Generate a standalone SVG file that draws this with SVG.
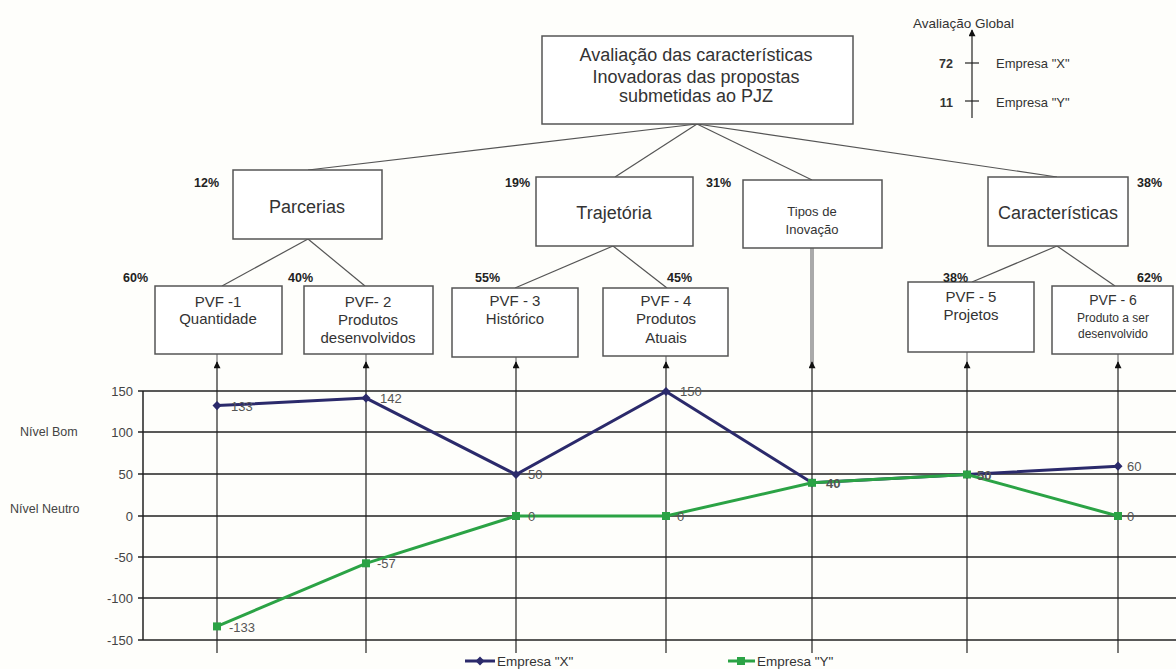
<svg xmlns="http://www.w3.org/2000/svg" width="1176" height="669" viewBox="0 0 1176 669">
<defs>
<style>
text{font-family:"Liberation Sans",Arial,sans-serif;fill:#333}
.box{fill:#fff;stroke:#555;stroke-width:1.5}
.t18{font-size:18px;text-anchor:middle}
.t15{font-size:15px;text-anchor:middle}
.t12{font-size:12px;text-anchor:middle}
.pct{font-size:12.5px;font-weight:bold;fill:#222}
.conn{stroke:#555;stroke-width:1.2;fill:none}
.grid{stroke:#222;stroke-width:1.5}
.vgrid{stroke:#222;stroke-width:1.2}
.ax{font-size:13px;text-anchor:end;fill:#444}
.dl{font-size:13px;fill:#555}
.lab{font-size:12.5px;fill:#444}
</style>
<marker id="arr" viewBox="0 0 10 10" refX="9" refY="5" markerWidth="8" markerHeight="7" orient="auto" markerUnits="userSpaceOnUse">
<path d="M0,0 L10,5 L0,10 Z" fill="#111"/>
</marker>
</defs>
<rect width="1176" height="669" fill="#fefefb"/>

<g id="connectors">
<line class="conn" x1="697" y1="124" x2="308" y2="170"/>
<line class="conn" x1="697" y1="124" x2="615" y2="177"/>
<line class="conn" x1="697" y1="124" x2="812" y2="180"/>
<line class="conn" x1="697" y1="124" x2="1057" y2="177"/>
<line class="conn" x1="308" y1="239" x2="222" y2="286"/>
<line class="conn" x1="308" y1="239" x2="365" y2="286"/>
<line class="conn" x1="613" y1="246" x2="515" y2="288"/>
<line class="conn" x1="613" y1="246" x2="667" y2="288"/>
<line class="conn" x1="1057" y1="246" x2="972" y2="282"/>
<line class="conn" x1="1057" y1="246" x2="1115" y2="286"/>
<line x1="812" y1="248" x2="812" y2="366" stroke="#aaa" stroke-width="4"/>
<g stroke="#aaa" stroke-width="2">
<line x1="217" y1="354" x2="217" y2="366"/>
<line x1="366" y1="354" x2="366" y2="366"/>
<line x1="516" y1="357" x2="516" y2="366"/>
<line x1="666" y1="356" x2="666" y2="366"/>
<line x1="967" y1="352" x2="967" y2="366"/>
<line x1="1118" y1="354" x2="1118" y2="366"/>
</g>
</g>

<g id="root">
<rect class="box" x="542" y="36" width="311" height="88"/>
<text class="t18" x="696" y="61">Avaliação das características</text>
<text class="t18" x="696" y="83">Inovadoras das propostas</text>
<text class="t18" x="696" y="102">submetidas ao PJZ</text>
</g>

<g id="global">
<line x1="972" y1="118" x2="972" y2="30" stroke="#222" stroke-width="1.2" marker-end="url(#arr)"/>
<line x1="965" y1="63" x2="979" y2="63" stroke="#222" stroke-width="1.2"/>
<line x1="965" y1="101" x2="979" y2="101" stroke="#222" stroke-width="1.2"/>
<text x="913" y="28" font-size="13.5" fill="#444">Avaliação Global</text>
<text x="953" y="68" font-size="12.5" font-weight="bold" text-anchor="end" fill="#222">72</text>
<text x="953" y="107" font-size="12.5" font-weight="bold" text-anchor="end" fill="#222">11</text>
<text x="996" y="68" font-size="13" fill="#444">Empresa "X"</text>
<text x="996" y="107" font-size="13" fill="#444">Empresa "Y"</text>
</g>

<g id="parcerias">
<rect class="box" x="233" y="170" width="149" height="69"/>
<text class="t18" x="307" y="213">Parcerias</text>
<text class="pct" x="194" y="187">12%</text>
</g>
<g id="trajetoria">
<rect class="box" x="536" y="177" width="157" height="69"/>
<text class="t18" x="614" y="219">Trajetória</text>
<text class="pct" x="505" y="187">19%</text>
</g>
<g id="tipos">
<rect class="box" x="743" y="180" width="139" height="68"/>
<text x="812" y="216" font-size="13" text-anchor="middle">Tipos de</text>
<text x="812" y="234" font-size="13" text-anchor="middle">Inovação</text>
<text class="pct" x="706" y="187">31%</text>
</g>
<g id="caracteristicas">
<rect class="box" x="988" y="177" width="140" height="69"/>
<text class="t18" x="1058" y="219">Características</text>
<text class="pct" x="1137" y="187">38%</text>
</g>

<g id="pvf1">
<rect class="box" x="155" y="286" width="127" height="68"/>
<text class="t15" x="218" y="307">PVF -1</text>
<text class="t15" x="218" y="324">Quantidade</text>
<text class="pct" x="123" y="282">60%</text>
</g>
<g id="pvf2">
<rect class="box" x="304" y="286" width="129" height="68"/>
<text class="t15" x="368" y="307">PVF- 2</text>
<text class="t15" x="368" y="325">Produtos</text>
<text class="t15" x="368" y="343">desenvolvidos</text>
<text class="pct" x="288" y="282">40%</text>
</g>
<g id="pvf3">
<rect class="box" x="452" y="288" width="126" height="69"/>
<text class="t15" x="515" y="306">PVF - 3</text>
<text class="t15" x="515" y="324">Histórico</text>
<text class="pct" x="475" y="282">55%</text>
</g>
<g id="pvf4">
<rect class="box" x="603" y="288" width="125" height="68"/>
<text class="t15" x="666" y="306">PVF - 4</text>
<text class="t15" x="666" y="324">Produtos</text>
<text class="t15" x="666" y="343">Atuais</text>
<text class="pct" x="667" y="282">45%</text>
</g>
<g id="pvf5">
<rect class="box" x="908" y="282" width="126" height="70"/>
<text class="t15" x="971" y="302">PVF - 5</text>
<text class="t15" x="971" y="320">Projetos</text>
<text class="pct" x="943" y="282">38%</text>
</g>
<g id="pvf6">
<rect class="box" x="1052" y="286" width="121" height="68"/>
<text x="1113" y="305" font-size="14" text-anchor="middle">PVF - 6</text>
<text class="t12" x="1113" y="322">Produto a ser</text>
<text class="t12" x="1113" y="338">desenvolvido</text>
<text class="pct" x="1137" y="282">62%</text>
</g>

<g id="chart">
<g class="grid">
<line x1="143" y1="391" x2="1176" y2="391"/>
<line x1="143" y1="432" x2="1176" y2="432"/>
<line x1="143" y1="474" x2="1176" y2="474"/>
<line x1="143" y1="516" x2="1176" y2="516"/>
<line x1="143" y1="557" x2="1176" y2="557"/>
<line x1="143" y1="598" x2="1176" y2="598"/>
<line x1="143" y1="640" x2="1176" y2="640"/>
<line x1="143" y1="391" x2="143" y2="640"/>
<line x1="138" y1="391" x2="143" y2="391"/>
<line x1="138" y1="432" x2="143" y2="432"/>
<line x1="138" y1="474" x2="143" y2="474"/>
<line x1="138" y1="516" x2="143" y2="516"/>
<line x1="138" y1="557" x2="143" y2="557"/>
<line x1="138" y1="598" x2="143" y2="598"/>
<line x1="138" y1="640" x2="143" y2="640"/>
</g>
<g class="vgrid">
<line x1="217" y1="653" x2="217" y2="362" marker-end="url(#arr)"/>
<line x1="366" y1="653" x2="366" y2="362" marker-end="url(#arr)"/>
<line x1="516" y1="653" x2="516" y2="362" marker-end="url(#arr)"/>
<line x1="666" y1="653" x2="666" y2="362" marker-end="url(#arr)"/>
<line x1="812" y1="653" x2="812" y2="362" marker-end="url(#arr)"/>
<line x1="967" y1="653" x2="967" y2="362" marker-end="url(#arr)"/>
<line x1="1118" y1="653" x2="1118" y2="362" marker-end="url(#arr)"/>
</g>
<text class="ax" x="133" y="396">150</text>
<text class="ax" x="133" y="437">100</text>
<text class="ax" x="133" y="479">50</text>
<text class="ax" x="133" y="521">0</text>
<text class="ax" x="133" y="562">-50</text>
<text class="ax" x="133" y="603">-100</text>
<text class="ax" x="133" y="645">-150</text>
<text class="lab" x="20" y="436">Nível Bom</text>
<text class="lab" x="10" y="513">Nível Neutro</text>

<polyline points="217,405.6 366,398.1 516,474.5 666,391.5 812,482.8 967,474.5 1118,466.2" fill="none" stroke="#2b2a6b" stroke-width="3"/>
<g fill="#2b2a6b">
<path d="M217,401 l4.5,4.6 -4.5,4.6 -4.5,-4.6Z"/>
<path d="M366,393.5 l4.5,4.6 -4.5,4.6 -4.5,-4.6Z"/>
<path d="M516,469.9 l4.5,4.6 -4.5,4.6 -4.5,-4.6Z"/>
<path d="M666,386.9 l4.5,4.6 -4.5,4.6 -4.5,-4.6Z"/>
<path d="M812,478.2 l4.5,4.6 -4.5,4.6 -4.5,-4.6Z"/>
<path d="M967,469.9 l4.5,4.6 -4.5,4.6 -4.5,-4.6Z"/>
<path d="M1118,461.6 l4.5,4.6 -4.5,4.6 -4.5,-4.6Z"/>
</g>
<polyline points="217,626.4 366,563.3 516,516 666,516 812,482.8 967,474.5 1118,516" fill="none" stroke="#2ba345" stroke-width="3"/>
<g fill="#2ba345">
<rect x="213" y="622.4" width="8" height="8"/>
<rect x="362" y="559.3" width="8" height="8"/>
<rect x="512" y="512" width="8" height="8"/>
<rect x="662" y="512" width="8" height="8"/>
<rect x="808" y="478.8" width="8" height="8"/>
<rect x="963" y="470.5" width="8" height="8"/>
<rect x="1114" y="512" width="8" height="8"/>
</g>
<text class="dl" x="231" y="411">133</text>
<text class="dl" x="380" y="403">142</text>
<text class="dl" x="528" y="479">50</text>
<text class="dl" x="680" y="396">150</text>
<text class="dl" x="826" y="488" fill="#333" font-weight="bold">40</text>
<text class="dl" x="977" y="480" fill="#333" font-weight="bold">50</text>
<text class="dl" x="1127" y="471">60</text>
<text class="dl" x="229" y="632">-133</text>
<text class="dl" x="377" y="568">-57</text>
<text class="dl" x="528" y="521">0</text>
<text class="dl" x="677" y="521">0</text>
<text class="dl" x="1127" y="521">0</text>
</g>

<g id="legend">
<line x1="465" y1="661" x2="495" y2="661" stroke="#2b2a6b" stroke-width="3"/>
<path d="M480,656.5 l4.5,4.5 -4.5,4.5 -4.5,-4.5Z" fill="#2b2a6b"/>
<text x="497" y="666" font-size="13.5" fill="#444">Empresa "X"</text>
<line x1="728" y1="661" x2="755" y2="661" stroke="#2ba345" stroke-width="3"/>
<rect x="737" y="657" width="8" height="8" fill="#2ba345"/>
<text x="757" y="666" font-size="13.5" fill="#444">Empresa "Y"</text>
</g>
</svg>
